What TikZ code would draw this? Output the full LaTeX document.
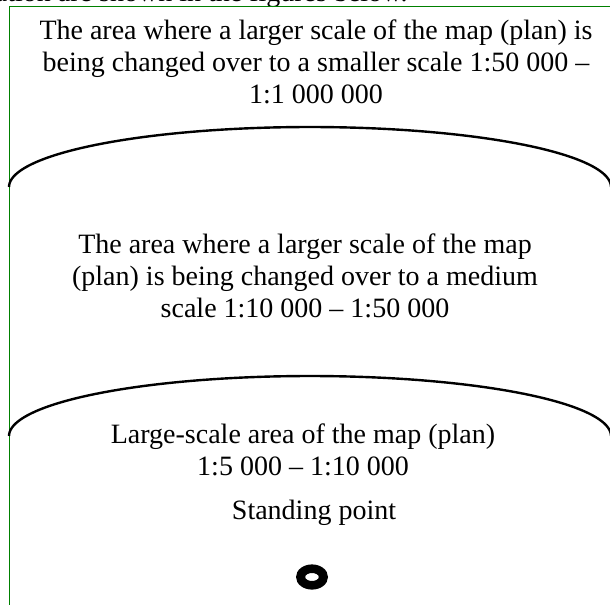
\documentclass[tikz,border=0pt]{standalone}
\usepackage{fontspec}
\setmainfont{Liberation Serif}
\definecolor{framegreen}{RGB}{0,128,0}
\begin{document}
\begin{tikzpicture}[
    x=0.5pt, y=-0.5pt,
    areatext/.style={
        align=center, inner sep=0pt, font=\fontsize{14}{16.1}\selectfont
    },
    border/.style={draw=framegreen, line width=0.5pt},
    boundary/.style={draw=black, line width=1.2pt}
]
\useasboundingbox (0,0) rectangle (610,605);
\clip (0,0) rectangle (610,605);

% page text cut off above the frame
\node[areatext, anchor=base east] (pagetext) at (408,2) {mation are shown in the figures below.};

% frame
\coordinate (frametl) at (9,6);
\draw[border] (frametl) -- (frametl |- 0,605);
\draw[border] (frametl) -- (610,6);

\node[areatext] (small) at (316,62)
    {The area where a larger scale of the map (plan) is\\
     being changed over to a smaller scale 1:50 000 --\\
     1:1 000 000};

% upper boundary
\draw[boundary] plot[domain=180:0, samples=90]
    ({310+301*cos(\x)}, {187-60*sin(\x)});

\node[areatext] (medium) at (305,276)
    {The area where a larger scale of the map\\
     (plan) is being changed over to a medium\\
     scale 1:10 000 -- 1:50 000};

% lower boundary
\draw[boundary] plot[domain=180:0, samples=90]
    ({310+301*cos(\x)}, {436-60*sin(\x)});

\node[areatext] (large) at (303,450)
    {Large-scale area of the map (plan)\\
     1:5 000 -- 1:10 000};

\node[areatext] (standlabel) at (314,513) {Standing point};

% standing point
\fill[even odd rule] (312,577) ellipse[x radius=8pt, y radius=6.3pt]
    (312,577) ellipse[x radius=3.4pt, y radius=2pt];
\end{tikzpicture}
\end{document}
